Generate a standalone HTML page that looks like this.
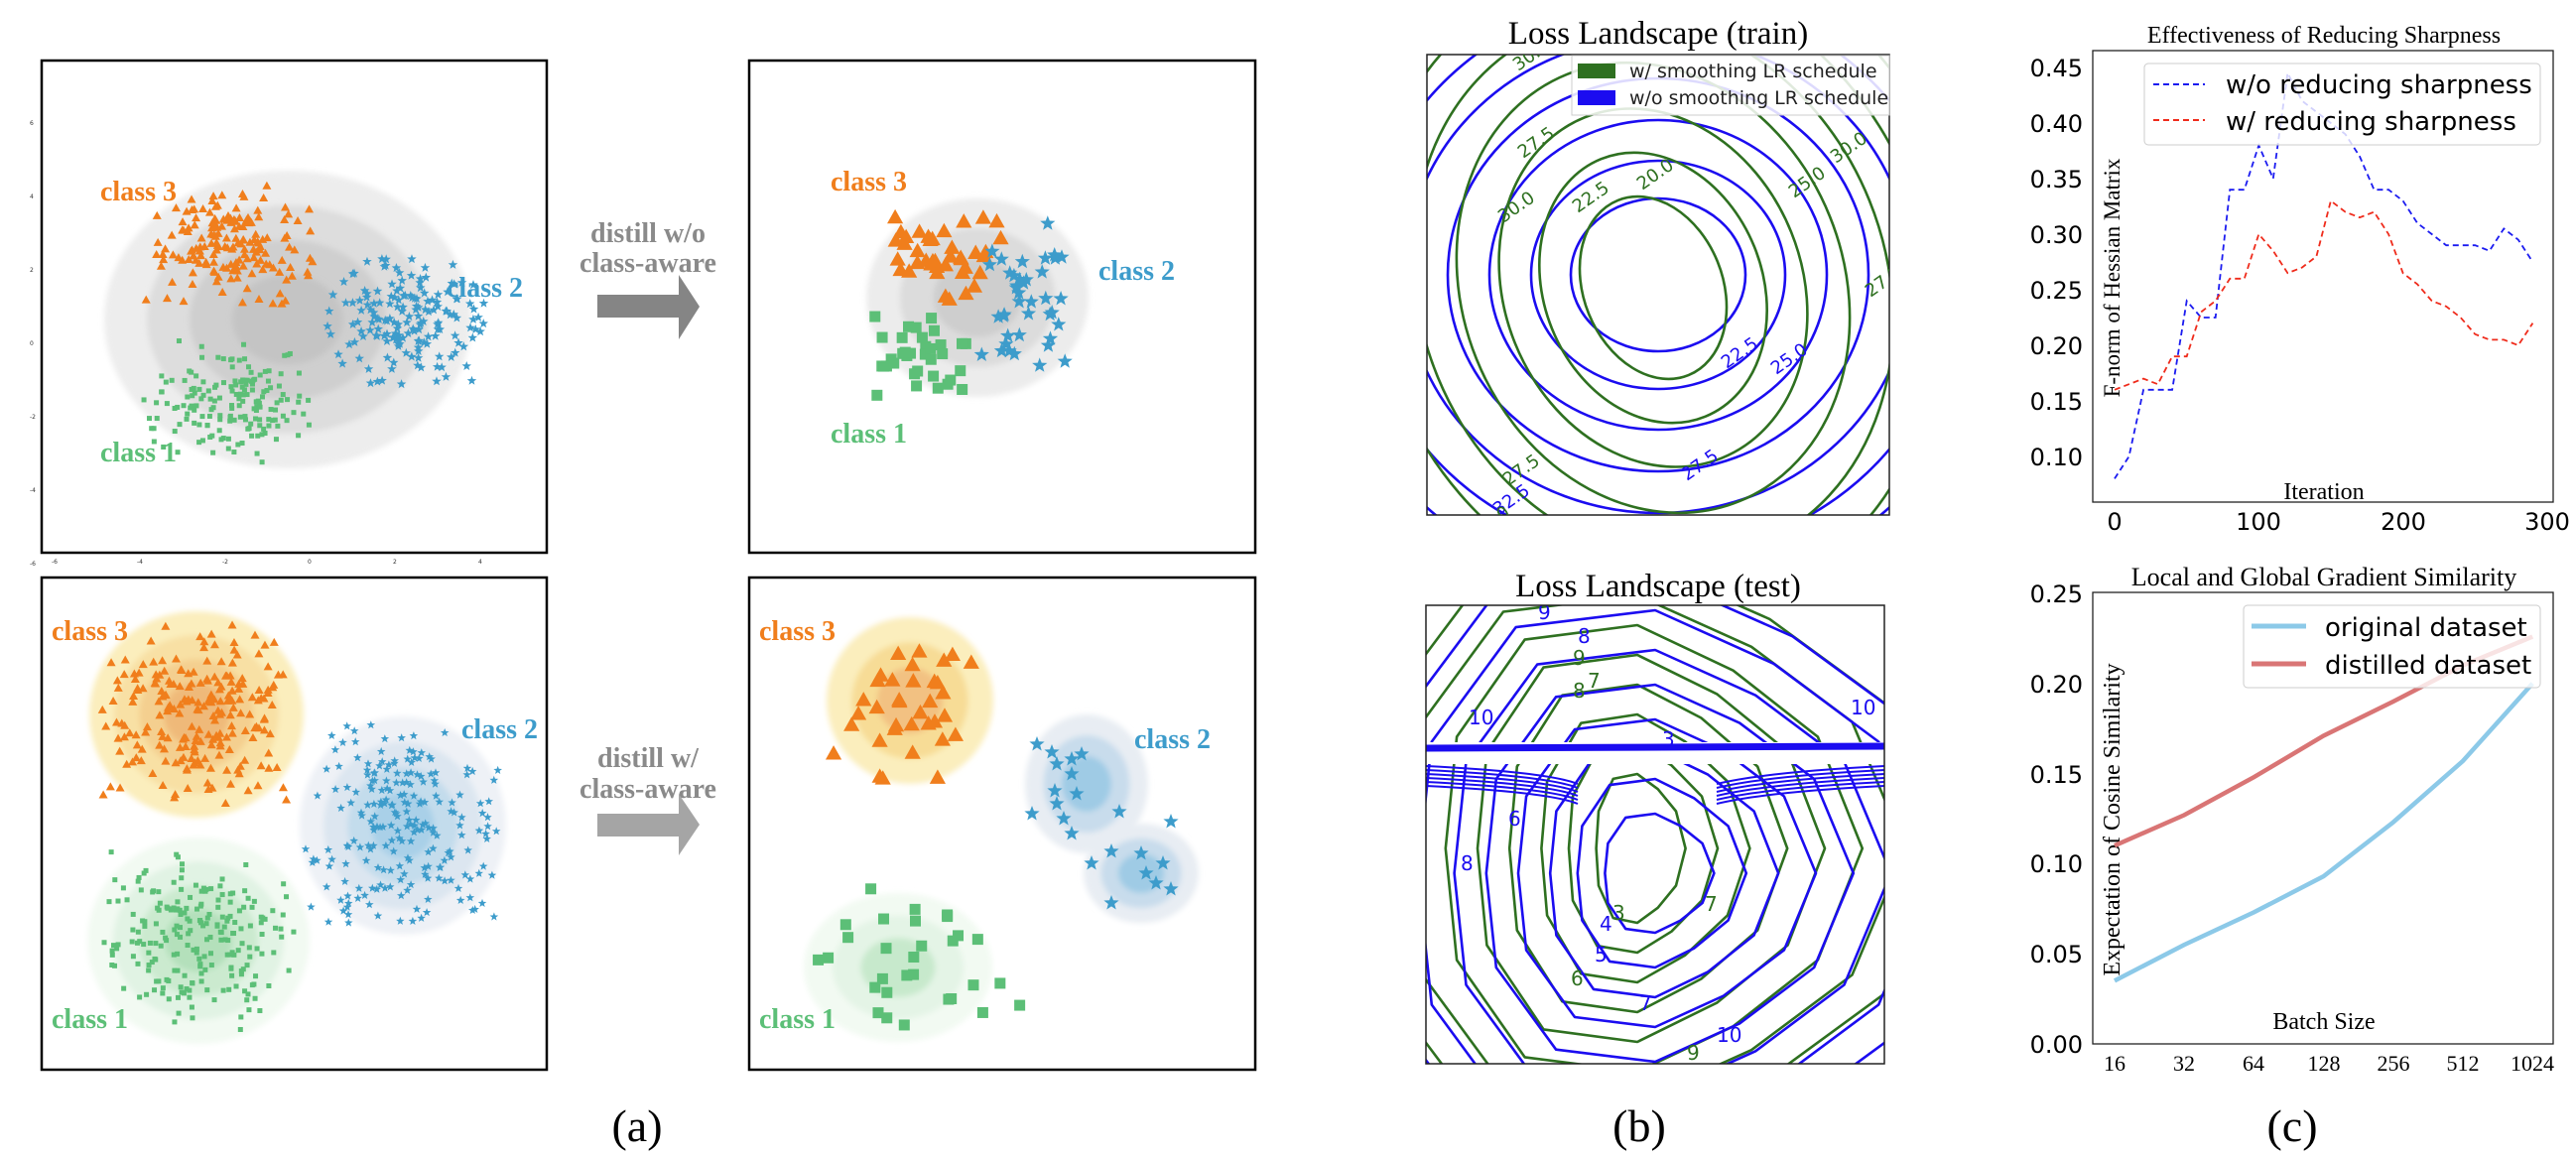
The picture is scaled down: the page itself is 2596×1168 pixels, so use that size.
<!DOCTYPE html>
<html><head><meta charset="utf-8"><style>
html,body{margin:0;padding:0;background:#fff;}
svg{display:block;}
.lb{font-family:"Liberation Serif",serif;font-weight:bold;font-size:28px;}
.sf{font-family:"Liberation Serif",serif;}
.ss{font-family:"DejaVu Sans","Liberation Sans",sans-serif;}
</style></head><body>
<svg id="s" width="2596" height="1168" viewBox="0 0 2596 1168" xmlns="http://www.w3.org/2000/svg">
<defs>
<filter id="bl" x="-20%" y="-20%" width="140%" height="140%"><feGaussianBlur stdDeviation="3"/></filter>
<clipPath id="cb1"><rect x="1438" y="55" width="466" height="464"/></clipPath>
<clipPath id="cb2"><rect x="1437" y="610" width="462" height="462"/></clipPath>
<clipPath id="ca1"><rect x="42" y="61" width="509" height="496"/></clipPath>
<clipPath id="ca2"><rect x="755" y="61" width="510" height="496"/></clipPath>
<clipPath id="ca3"><rect x="42" y="582" width="509" height="496"/></clipPath>
<clipPath id="ca4"><rect x="755" y="582" width="510" height="496"/></clipPath>
</defs>
<g id="g1" clip-path="url(#ca1)"></g>
<g id="g2" clip-path="url(#ca2)"></g>
<g id="g3" clip-path="url(#ca3)"></g>
<g id="g4" clip-path="url(#ca4)"></g>
<g fill="none" stroke="#000" stroke-width="2.5">
<rect x="42" y="61" width="509" height="496"/>
<rect x="755" y="61" width="510" height="496"/>
<rect x="42" y="582" width="509" height="496"/>
<rect x="755" y="582" width="510" height="496"/>
</g>
<g class="lb">
<text x="101" y="202" fill="#f07e1c">class 3</text>
<text x="450" y="299" fill="#3d9ccb">class 2</text>
<text x="101" y="465" fill="#5cbf77">class 1</text>
<text x="837" y="192" fill="#f07e1c">class 3</text>
<text x="1107" y="282" fill="#3d9ccb">class 2</text>
<text x="837" y="446" fill="#5cbf77">class 1</text>
<text x="52" y="645" fill="#f07e1c">class 3</text>
<text x="465" y="744" fill="#3d9ccb">class 2</text>
<text x="52" y="1036" fill="#5cbf77">class 1</text>
<text x="765" y="645" fill="#f07e1c">class 3</text>
<text x="1143" y="754" fill="#3d9ccb">class 2</text>
<text x="765" y="1036" fill="#5cbf77">class 1</text>
</g>
<g class="sf" font-weight="bold" font-size="28" fill="#8a8a8a" text-anchor="middle">
<text x="653" y="244">distill w/o</text>
<text x="653" y="274">class-aware</text>
<text x="653" y="773">distill w/</text>
<text x="653" y="804">class-aware</text>
</g>
<polygon points="602,297 684,297 684,277 705,309 684,342 684,320 602,320" fill="#858585"/>
<polygon points="602,820 684,820 684,800 705,831 684,862 684,843 602,843" fill="#a5a5a5"/>
<g class="ss" font-size="6" fill="#333" id="tlt"></g>
<text x="642" y="1150" class="sf" font-size="46" text-anchor="middle">(a)</text>
<text x="1652" y="1150" class="sf" font-size="46" text-anchor="middle">(b)</text>
<text x="2310" y="1150" class="sf" font-size="46" text-anchor="middle">(c)</text>

<text x="1671" y="44" class="sf" font-size="33" text-anchor="middle">Loss Landscape (train)</text>
<text x="1671" y="601" class="sf" font-size="33" text-anchor="middle">Loss Landscape (test)</text>
<g id="c1" clip-path="url(#cb1)" fill="none" stroke-width="2.6"></g>
<g id="c2" clip-path="url(#cb2)" fill="none" stroke-width="2.6"></g>
<rect x="1438" y="55" width="466" height="464" fill="none" stroke="#222" stroke-width="1.5"/>
<rect x="1437" y="610" width="462" height="462" fill="none" stroke="#222" stroke-width="1.5"/>
<g class="ss" font-size="19">
<rect x="1584" y="56" width="320" height="60" fill="#fff" fill-opacity="0.85" stroke="#ccc"/>
<rect x="1590" y="64" width="38" height="15" fill="#2e7020"/>
<rect x="1590" y="91" width="38" height="15" fill="#1b0cf0"/>
<text x="1642" y="78" fill="#222">w/ smoothing LR schedule</text>
<text x="1642" y="105" fill="#222">w/o smoothing LR schedule</text>
</g>
<g class="ss" font-size="18" id="c1l" clip-path="url(#cb1)"></g>

<text x="2342" y="43" class="sf" font-size="24" text-anchor="middle">Effectiveness of Reducing Sharpness</text>
<rect x="2109" y="51" width="464" height="455" fill="none" stroke="#222" stroke-width="1.3"/>
<text x="2342" y="503" class="sf" font-size="24" text-anchor="middle">Iteration</text>
<text transform="translate(2136,280) rotate(-90)" class="sf" font-size="23" text-anchor="middle">F-norm of Hessian Matrix</text>
<text x="2342" y="590" class="sf" font-size="26" text-anchor="middle">Local and Global Gradient Similarity</text>
<rect x="2109" y="597" width="464" height="455" fill="none" stroke="#222" stroke-width="1.3"/>
<text x="2342" y="1037" class="sf" font-size="24" text-anchor="middle">Batch Size</text>
<text transform="translate(2136,826) rotate(-90)" class="sf" font-size="24" text-anchor="middle">Expectation of Cosine Similarity</text>
<g class="sf" font-size="22" text-anchor="middle">
<text x="2131" y="1079">16</text><text x="2201" y="1079">32</text><text x="2271" y="1079">64</text><text x="2342" y="1079">128</text><text x="2412" y="1079">256</text><text x="2482" y="1079">512</text><text x="2552" y="1079">1024</text>
</g>
<g class="ss" font-size="24" text-anchor="end">
<text x="2099" y="77">0.45</text><text x="2099" y="133">0.40</text><text x="2099" y="189">0.35</text><text x="2099" y="245">0.30</text><text x="2099" y="301">0.25</text><text x="2099" y="357">0.20</text><text x="2099" y="413">0.15</text><text x="2099" y="469">0.10</text>
<text x="2099" y="607">0.25</text><text x="2099" y="698">0.20</text><text x="2099" y="789">0.15</text><text x="2099" y="879">0.10</text><text x="2099" y="970">0.05</text><text x="2099" y="1061">0.00</text>
</g>
<g class="ss" font-size="24" text-anchor="middle">
<text x="2131" y="534">0</text><text x="2276" y="534">100</text><text x="2422" y="534">200</text><text x="2567" y="534">300</text>
</g>
<g id="lines"></g>
<rect x="2161" y="64" width="399" height="82" rx="4" fill="#fff" fill-opacity="0.8" stroke="#ccc"/>
<line x1="2170" y1="85" x2="2222" y2="85" stroke="#1b1bf0" stroke-width="2" stroke-dasharray="6,4"/>
<line x1="2170" y1="121" x2="2222" y2="121" stroke="#ef2b1b" stroke-width="2" stroke-dasharray="6,4"/>
<text x="2243" y="94" class="ss" font-size="26">w/o reducing sharpness</text>
<text x="2243" y="131" class="ss" font-size="26">w/ reducing sharpness</text>
<rect x="2261" y="610" width="299" height="83" rx="4" fill="#fff" fill-opacity="0.8" stroke="#ccc"/>
<line x1="2269" y1="631" x2="2324" y2="631" stroke="#8cc9e8" stroke-width="5"/>
<line x1="2269" y1="669" x2="2324" y2="669" stroke="#d97575" stroke-width="5"/>
<text x="2343" y="641" class="ss" font-size="26">original dataset</text>
<text x="2343" y="679" class="ss" font-size="26">distilled dataset</text>
</svg>
<script>
var NS="http://www.w3.org/2000/svg";
function el(p,t,a){var e=document.createElementNS(NS,t);for(var k in a)e.setAttribute(k,a[k]);p.appendChild(e);return e;}
var seed=7;function rnd(){seed=(seed*16807)%2147483647;return seed/2147483647;}
function gs(){var v;do{v=Math.sqrt(-2*Math.log(rnd()+1e-9))*Math.cos(2*Math.PI*rnd());}while(Math.abs(v)>1.9);return v;}
var G1=document.getElementById('g1'),G2=document.getElementById('g2'),G3=document.getElementById('g3'),G4=document.getElementById('g4');
function blob(g,cx,cy,rx,ry,cols){var n=cols.length;cols.forEach(function(c,i){var f=1-i/(n+0.3);el(g,'ellipse',{cx:cx,cy:cy,rx:rx*f,ry:ry*f,fill:c,filter:'url(#bl)'});});}
blob(G1,290,322,185,150,['#ededed','#dddddd','#cfcfcf','#c4c4c4']);
blob(G2,985,300,112,100,['#ececec','#dcdcdc','#cecece']);
blob(G3,198,720,108,104,['#fbeebd','#f8e0a4','#f4cf8f','#efb979']);
blob(G3,406,832,104,110,['#eef1f6','#dce6f0','#c3dcec','#a9d0e8']);
blob(G3,200,948,112,104,['#f2faf2','#e1f3e4','#cbeacf','#b4e0bb']);
blob(G4,917,706,84,84,['#fbeebd','#f7dc96','#f2c182']);
blob(G4,1095,790,62,70,['#e8edf3','#c8dcec','#9fcbe5']);
blob(G4,1150,880,58,50,['#e8edf3','#c8dcec','#9fcbe5']);
blob(G4,905,975,95,75,['#f2faf2','#e4f4e6','#c7e9cc']);
var P;
function tri(x,y,s,c){el(P,'polygon',{points:(x)+','+(y-s)+' '+(x-s*0.9)+','+(y+s*0.6)+' '+(x+s*0.9)+','+(y+s*0.6),fill:c});}
function sq(x,y,s,c){el(P,'rect',{x:x-s/2,y:y-s/2,width:s,height:s,fill:c});}
function star(x,y,s,c){var p=[];for(var i=0;i<10;i++){var r=i%2?s*0.42:s;var a=-Math.PI/2+i*Math.PI/5;p.push((x+r*Math.cos(a)).toFixed(1)+','+(y+r*Math.sin(a)).toFixed(1));}el(P,'polygon',{points:p.join(' '),fill:c});}
var O='#f07e1c',Bl='#3d9ccb',G='#5cbf77';
function cloud(f,n,cx,cy,sx,sy,s,c){for(var i=0;i<n;i++){f(cx+gs()*sx,cy+gs()*sy,s,c);}}
P=G1;
cloud(tri,170,232,248,45,32,5,O);
cloud(star,170,408,325,42,34,5,Bl);
cloud(sq,170,230,405,45,33,5,G);
P=G2;
cloud(tri,40,950,265,35,28,9,O);
cloud(star,40,1040,300,28,45,8,Bl);
cloud(sq,35,930,360,30,22,11,G);
P=G3;
cloud(tri,220,198,720,50,48,5,O);
cloud(star,220,406,832,52,55,4.5,Bl);
cloud(sq,220,200,948,52,48,5,G);
P=G4;
cloud(tri,35,910,706,38,42,9,O);
var bp=[[1072,825],[1063,797],[1080,780],[1065,770],[1090,760],[1100,870],[1120,858],[1150,860],[1165,890],[1180,896],[1172,870],[1155,880],[1120,910],[1080,840],[1080,765],[1045,750],[1060,758],[1040,820],[1065,810],[1085,800],[1180,828],[1128,818]];
bp.forEach(function(p){star(p[0],p[1],8,Bl);});
cloud(sq,30,905,975,65,50,11,G);
var T=document.getElementById('tlt');
[-6,-4,-2,0,2,4].forEach(function(v,i){var x=56+i*86;el(T,'text',{x:x-4,y:568}).textContent=v;});
[6,4,2,0,-2,-4,-6].forEach(function(v,i){var y=126+i*74;el(T,'text',{x:30,y:y}).textContent=v;});
var C1=document.getElementById('c1');
[[88,77],[128,115],[170,156],[212,198],[255,240],[298,282],[340,322]].forEach(function(r){el(C1,'ellipse',{cx:1671,cy:277,rx:r[0],ry:r[1],stroke:'#1b0cf0'});});
[[70,95],[110,140],[150,185],[192,232],[235,280],[278,325],[320,370]].forEach(function(r){el(C1,'ellipse',{cx:1666,cy:290,rx:r[0],ry:r[1],stroke:'#2e7020',transform:'rotate(-22 1666 290)'});});
var L1=[[1655,192,'20.0','#2e7020'],[1590,215,'22.5','#2e7020'],[1535,160,'27.5','#2e7020'],[1515,225,'30.0','#2e7020'],[1740,372,'22.5','#1b0cf0'],[1790,378,'25.0','#1b0cf0'],[1808,200,'25.0','#2e7020'],[1850,165,'30.0','#2e7020'],[1700,485,'27.5','#1b0cf0'],[1770,560,'32.5','#1b0cf0'],[1520,490,'27.5','#2e7020'],[1510,520,'32.5','#1b0cf0'],[1490,542,'30.0','#2e7020'],[1880,555,'35.0','#1b0cf0'],[1885,300,'27.5','#2e7020'],[1530,72,'30.0','#2e7020']];
var CL=document.getElementById('c1l');
L1.forEach(function(l){var t=el(CL,'text',{x:l[0],y:l[1],fill:l[3],transform:'rotate(-35 '+l[0]+' '+l[1]+')'});t.textContent=l[2];});
var C2=document.getElementById('c2');
function oct(cx,cy,rx,ry,col){var p=[];for(var i=0;i<12;i++){var a=i*Math.PI/6;var w=1+0.08*Math.cos(3*a);p.push((cx+rx*w*Math.cos(a)).toFixed(1)+','+(cy+ry*w*Math.sin(a)).toFixed(1));}el(C2,'polygon',{points:p.join(' '),stroke:col,'stroke-linejoin':'round'});}
[[45,75],[75,105],[105,135],[140,165],[175,195],[210,225],[250,255],[290,290]].forEach(function(r){oct(1650,855,r[0],r[1],'#2e7020');});
[[55,60],[85,95],[115,125],[150,155],[185,190],[220,225],[260,265],[300,300]].forEach(function(r){oct(1668,880,r[0],r[1],'#1b0cf0');});
el(C2,'rect',{x:1437,y:748,width:462,height:22,fill:'#fff',stroke:'none'});
el(C2,'line',{x1:1437,y1:754,x2:1899,y2:752,stroke:'#1b0cf0','stroke-width':7});
for(var i=0;i<6;i++){el(C2,'path',{d:'M1437 '+(772+i*4)+' Q1560 '+(778+i*4)+' 1590 '+(790+i*4)+' M1899 '+(772+i*4)+' Q1780 '+(778+i*4)+' 1730 '+(790+i*4),stroke:'#1b0cf0','stroke-width':2});}
[[1675,752,'3','#1b0cf0'],[1625,927,'3','#2e7020'],[1612,938,'4','#1b0cf0'],[1607,969,'5','#1b0cf0'],[1583,993,'6','#2e7020'],[1652,1018,'7','#1b0cf0'],[1472,877,'8','#1b0cf0'],[1520,832,'6','#1b0cf0'],[1718,918,'7','#2e7020'],[1585,703,'8','#2e7020'],[1600,693,'7','#2e7020'],[1585,670,'9','#2e7020'],[1590,648,'8','#1b0cf0'],[1550,624,'9','#1b0cf0'],[1865,720,'10','#1b0cf0'],[1480,730,'10','#1b0cf0'],[1700,1068,'9','#2e7020'],[1730,1050,'10','#1b0cf0']].forEach(function(l){var t=el(C2,'text',{x:l[0],y:l[1],fill:l[3],'font-size':20,'font-family':'DejaVu Sans,sans-serif',stroke:'none'});t.textContent=l[2];});
var LN=document.getElementById('lines');
var bv=[.08,.10,.16,.16,.16,.24,.225,.225,.34,.34,.38,.35,.445,.42,.41,.40,.39,.37,.34,.34,.33,.31,.30,.29,.29,.29,.285,.305,.295,.275];
var rv=[.16,.165,.17,.165,.19,.19,.23,.24,.26,.26,.30,.285,.265,.27,.28,.33,.32,.315,.32,.30,.265,.255,.24,.235,.225,.21,.205,.205,.20,.22];
function pl(v,c){var p=v.map(function(y,i){return (2131+i*14.53).toFixed(1)+','+(68+(0.45-y)*1120).toFixed(1);});el(LN,'polyline',{points:p.join(' '),fill:'none',stroke:c,'stroke-width':1.8,'stroke-dasharray':'6,4'});}
pl(bv,'#1b1bf0');pl(rv,'#ef2b1b');
function pl2(v,c){var p=v.map(function(y,i){return (2131+i*70.2).toFixed(1)+','+(598+(0.25-y)*1816).toFixed(1);});el(LN,'polyline',{points:p.join(' '),fill:'none',stroke:c,'stroke-width':4.5});}
pl2([.035,.055,.073,.093,.123,.157,.20],'#8cc9e8');pl2([.11,.127,.148,.171,.19,.21,.226],'#d97575');
</script>
</body></html>
